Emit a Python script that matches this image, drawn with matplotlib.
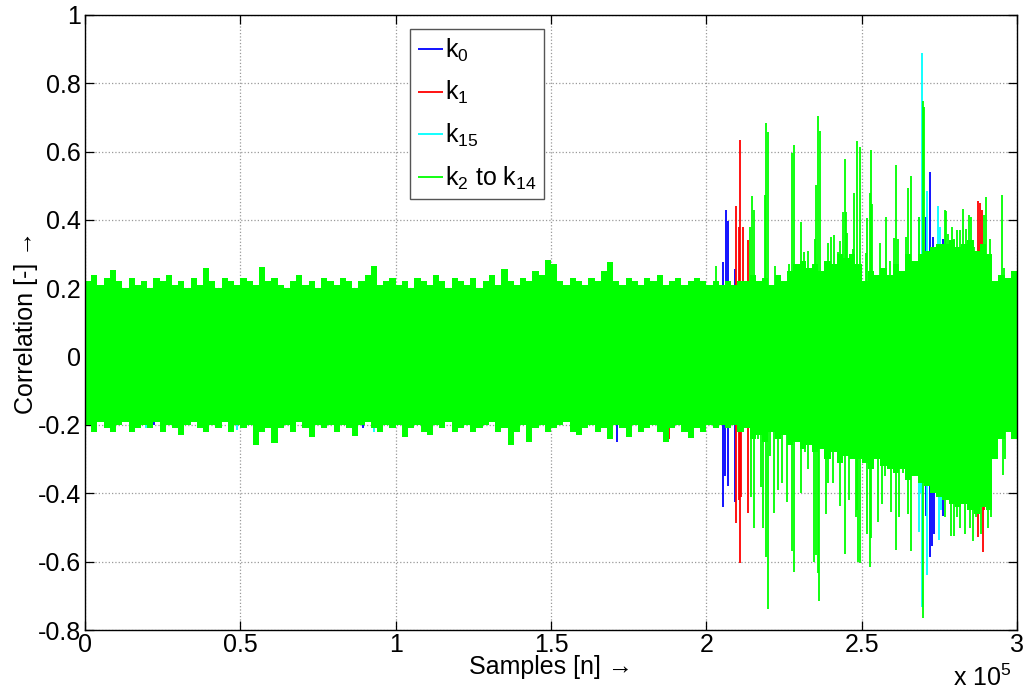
import numpy as np
import matplotlib
matplotlib.use("Agg")
import matplotlib.pyplot as plt
from matplotlib.ticker import FuncFormatter, MultipleLocator

# dense part of the k2..k14 trace, min/max per 2000-sample block
bin_width = 2000
green_hi = [
    0.22, 0.24, 0.21, 0.23, 0.255, 0.22, 0.20, 0.23, 0.21, 0.22,
    0.20, 0.23, 0.22, 0.24, 0.21, 0.22, 0.20, 0.23, 0.21, 0.258,
    0.22, 0.20, 0.23, 0.22, 0.21, 0.23, 0.22, 0.21, 0.263, 0.22,
    0.23, 0.21, 0.20, 0.22, 0.24, 0.21, 0.22, 0.20, 0.23, 0.22,
    0.21, 0.23, 0.22, 0.20, 0.22, 0.24, 0.265, 0.21, 0.22, 0.23,
    0.21, 0.22, 0.20, 0.23, 0.22, 0.21, 0.24, 0.22, 0.20, 0.23,
    0.22, 0.21, 0.23, 0.20, 0.22, 0.24, 0.21, 0.257, 0.22, 0.21,
    0.23, 0.22, 0.25, 0.24, 0.283, 0.27, 0.22, 0.21, 0.23, 0.22,
    0.21, 0.23, 0.22, 0.25, 0.278, 0.22, 0.21, 0.23, 0.22, 0.21,
    0.23, 0.22, 0.24, 0.21, 0.22, 0.23, 0.21, 0.22, 0.23, 0.22,
    0.21, 0.22, 0.21, 0.22, 0.21, 0.22, 0.22, 0.24, 0.22, 0.23,
    0.21, 0.24, 0.22, 0.25, 0.27, 0.28, 0.26, 0.27, 0.25, 0.28,
    0.27, 0.30, 0.29, 0.30, 0.27, 0.22, 0.25, 0.24, 0.26, 0.24,
    0.27, 0.25, 0.30, 0.28, 0.30, 0.31, 0.32, 0.33, 0.33, 0.34,
    0.32, 0.33, 0.34, 0.31, 0.33, 0.30, 0.22, 0.24, 0.23, 0.25,
]
green_lo = [
    -0.20, -0.22, -0.19, -0.21, -0.22, -0.20, -0.19, -0.22, -0.21, -0.20,
    -0.21, -0.19, -0.22, -0.20, -0.21, -0.23, -0.20, -0.19, -0.21, -0.22,
    -0.20, -0.21, -0.19, -0.22, -0.20, -0.21, -0.20, -0.258, -0.22, -0.21,
    -0.253, -0.21, -0.20, -0.22, -0.19, -0.21, -0.235, -0.20, -0.21, -0.20,
    -0.22, -0.20, -0.21, -0.232, -0.20, -0.19, -0.21, -0.22, -0.20, -0.21,
    -0.20, -0.235, -0.21, -0.20, -0.22, -0.23, -0.20, -0.21, -0.19, -0.22,
    -0.21, -0.20, -0.22, -0.21, -0.20, -0.19, -0.22, -0.21, -0.258, -0.22,
    -0.20, -0.25, -0.21, -0.20, -0.22, -0.21, -0.20, -0.19, -0.22, -0.23,
    -0.21, -0.20, -0.22, -0.21, -0.24, -0.20, -0.21, -0.235, -0.20, -0.22,
    -0.21, -0.20, -0.22, -0.25, -0.21, -0.20, -0.22, -0.237, -0.21, -0.22,
    -0.20, -0.21, -0.20, -0.21, -0.20, -0.22, -0.21, -0.24, -0.23, -0.25,
    -0.22, -0.24, -0.23, -0.26, -0.25, -0.27, -0.26, -0.28, -0.27, -0.30,
    -0.28, -0.31, -0.29, -0.30, -0.30, -0.31, -0.33, -0.30, -0.32, -0.33,
    -0.34, -0.33, -0.36, -0.35, -0.37, -0.38, -0.40, -0.41, -0.42, -0.43,
    -0.44, -0.43, -0.45, -0.46, -0.44, -0.45, -0.30, -0.24, -0.22, -0.24,
]

# individual peaks (sample index, correlation)
green_peaks = [
    (203100, 0.266), (214060, 0.38), (214700, 0.47), (215350, 0.43), (218920, 0.473),
    (219210, 0.683), (219860, 0.656), (222110, 0.266), (226620, 0.27), (227580, 0.596),
    (228230, 0.62), (230480, 0.395), (231450, 0.307), (232730, 0.31), (234990, 0.344),
    (235310, 0.502), (235950, 0.704), (236600, 0.659), (239170, 0.334), (240140, 0.351),
    (241100, 0.356), (242390, 0.307), (243040, 0.337), (244000, 0.424), (244640, 0.579),
    (244970, 0.424), (245400, 0.363), (247220, 0.315), (247540, 0.478), (248510, 0.631),
    (249470, 0.615), (251400, 0.303), (251730, 0.406), (252690, 0.479), (253010, 0.605),
    (253340, 0.447), (255910, 0.333), (257840, 0.409), (259130, 0.28), (260420, 0.347),
    (261060, 0.561), (261710, 0.345), (264280, 0.35), (264920, 0.495), (265890, 0.529),
    (268470, 0.408), (269750, 0.749), (270070, 0.731), (276830, 0.43), (277160, 0.425),
    (277800, 0.36), (279090, 0.38), (279730, 0.345), (280700, 0.37), (281660, 0.37),
    (282630, 0.432), (283590, 0.375), (284560, 0.415), (285200, 0.41), (286170, 0.32),
    (289390, 0.415), (290030, 0.466), (291320, 0.345), (295180, 0.472), (295830, 0.26),
    (214390, -0.41), (215350, -0.5), (216640, -0.24), (217600, -0.381), (218250, -0.5),
    (219210, -0.585), (219860, -0.739), (220500, -0.29), (221790, -0.458), (223080, -0.39),
    (224360, -0.37), (225970, -0.424), (227580, -0.57), (228230, -0.629), (230480, -0.4),
    (231770, -0.28), (232730, -0.33), (234670, -0.6), (235310, -0.58), (235950, -0.632),
    (236280, -0.715), (238530, -0.46), (239170, -0.37), (240780, -0.37), (243040, -0.437),
    (244640, -0.577), (245930, -0.42), (248200, -0.468), (248510, -0.45), (248830, -0.6),
    (249470, -0.603), (250760, -0.3), (251730, -0.52), (252690, -0.615), (253010, -0.53),
    (254300, -0.3), (255270, -0.483), (256550, -0.43), (257520, -0.35), (259450, -0.455),
    (261060, -0.566), (261870, -0.47), (263310, -0.34), (264920, -0.46), (265890, -0.57),
    (266860, -0.3), (269750, -0.766), (276830, -0.47), (277480, -0.33), (278770, -0.525),
    (279730, -0.525), (280700, -0.47), (281660, -0.5), (282310, -0.37), (283270, -0.52),
    (284240, -0.45), (284880, -0.5), (285850, -0.54), (286810, -0.47), (288420, -0.52),
    (290680, -0.5), (291640, -0.47), (295500, -0.346), (296150, -0.3),
]
k0_peaks = [
    (201200, 0.21), (205370, 0.278), (206340, 0.429), (206980, 0.397), (209240, 0.257),
    (262990, 0.239), (270720, 0.41), (272010, 0.54), (272970, 0.35), (276190, 0.345),
    (201200, -0.2), (205370, -0.439), (206020, -0.35), (206980, -0.38), (209240, -0.424),
    (270720, -0.465), (272010, -0.585), (272650, -0.553), (273290, -0.52), (276190, -0.466),
    (171250, -0.25), (22200, -0.2), (89500, -0.21),
]
k1_peaks = [
    (209560, 0.441), (210360, 0.38), (210680, 0.634), (211810, 0.38), (213420, 0.341),
    (287460, 0.456), (288100, 0.45), (288740, 0.43), (170930, 0.21),
    (209560, -0.486), (210360, -0.42), (210680, -0.603), (211170, -0.41), (213420, -0.458),
    (287460, -0.527), (289070, -0.573), (289390, -0.45), (187990, -0.24),
]
k15_peaks = [
    (268470, 0.408), (269430, 0.888), (271040, 0.485), (274580, 0.442), (275220, 0.38),
    (268470, -0.512), (269110, -0.40), (269430, -0.732), (271040, -0.639), (274900, -0.536),
    (275550, -0.45), (19600, -0.21), (93000, -0.22), (49000, -0.215),
]

plt.rcParams["font.family"] = ["Liberation Sans", "DejaVu Sans"]
plt.rcParams["mathtext.fontset"] = "custom"
plt.rcParams["mathtext.rm"] = "Liberation Sans"
plt.rcParams["mathtext.it"] = "Liberation Sans"
plt.rcParams["mathtext.default"] = "regular"
plt.rcParams["axes.unicode_minus"] = False

fig = plt.figure(figsize=(10.28, 6.95), dpi=100)
ax = fig.add_axes([0.0827, 0.0935, 0.9066, 0.885])

handles = []
for peaks, color, label in [
    (k0_peaks, "#0000ff", "k$_0$"),
    (k1_peaks, "#ff0000", "k$_1$"),
    (k15_peaks, "#00ffff", "k$_{15}$"),
]:
    n, v = zip(*peaks)
    h = ax.vlines(n, 0, v, colors=color, lw=1.3, label=label, zorder=2)
    handles.append(h)

# green trace goes on top of the others
edges = np.arange(len(green_hi) + 1) * bin_width
ax.fill_between(edges, green_lo + green_lo[-1:], green_hi + green_hi[-1:],
                step="post", color="#00ff00", lw=0, zorder=3)
n, v = zip(*green_peaks)
h = ax.vlines(n, 0, v, colors="#00ff00", lw=1.3, label="k$_2$ to k$_{14}$", zorder=3)
handles.append(h)

ax.set_xlim(0, 3e5)
ax.set_ylim(-0.8, 1)
ax.xaxis.set_major_locator(MultipleLocator(0.5e5))
ax.yaxis.set_major_locator(MultipleLocator(0.2))
ax.xaxis.set_major_formatter(FuncFormatter(lambda x, p: "%g" % (x / 1e5)))
ax.yaxis.set_major_formatter(FuncFormatter(lambda y, p: "%g" % round(y, 2)))
ax.tick_params(direction="in", length=6.5, width=0.9, labelsize=18,
               top=True, right=True, pad=3)
ax.tick_params(axis="x", pad=2)
ax.grid(True, linestyle=":", color="#999999", lw=0.9)
ax.set_axisbelow(True)
for s in ax.spines.values():
    s.set_linewidth(1.0)
    s.set_zorder(4)

ax.set_xlabel("Samples [n] \u2192", fontsize=18, labelpad=-1)
ax.set_ylabel("Correlation [-] \u2192", fontsize=18, labelpad=0)
fig.text(0.984, 0.006, "x 10$^{5}$", fontsize=18, ha="right", va="bottom")

leg = ax.legend(handles=handles, loc="upper left", bbox_to_anchor=(0.349, 0.977),
                borderaxespad=0, fontsize=18, fancybox=False, framealpha=1,
                edgecolor="#555555", handlelength=1.0, handletextpad=0.1,
                labelspacing=0.62, borderpad=0.3)
leg.get_frame().set_linewidth(1.0)
leg.set_zorder(5)

fig.savefig("out.png", dpi=100)
